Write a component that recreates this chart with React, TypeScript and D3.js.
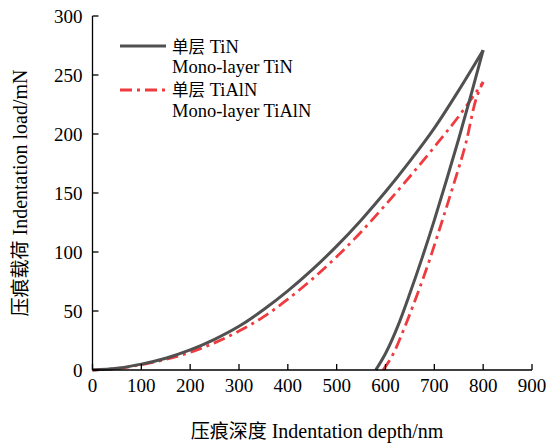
import React from "react";
import * as d3 from "d3";

const tinLoadDepth = [0, 50, 100, 150, 200, 250, 300, 350, 400, 450, 500, 550, 600, 650, 700, 750, 800];
const tinLoadForce = [0, 1.5, 5, 10, 17, 26, 37, 51, 67, 85, 105, 127, 151, 177, 205, 237, 271];
const tinUnloadDepth = [800, 775, 750, 725, 700, 675, 650, 625, 600, 580];
const tinUnloadForce = [271, 233, 196, 161, 127, 95, 65, 37, 14, 0];

const tialnLoadDepth = [0, 50, 100, 150, 200, 250, 300, 350, 400, 450, 500, 550, 600, 650, 700, 750, 800];
const tialnLoadForce = [0, 1.3, 4.5, 9, 15, 23, 33, 45, 60, 77, 96, 117, 140, 164, 189, 215, 244];
const tialnUnloadDepth = [800, 785, 765, 740, 715, 690, 665, 640, 615, 595];
const tialnUnloadForce = [244, 229, 193, 158, 125, 93, 64, 37, 13, 0];

const xTicks = [0, 100, 200, 300, 400, 500, 600, 700, 800, 900];
const yTicks = [0, 50, 100, 150, 200, 250, 300];

const legendLabels = [
  ["单层", "TiN", "Mono-layer TiN"],
  ["单层", "TiAlN", "Mono-layer TiAlN"],
];

const GRAY = "#505050";
const RED = "#ef3b3f";
const FONT = "'Liberation Serif', 'Times New Roman', serif";
const CJK = "'Noto Sans CJK SC', 'Noto Sans CJK JP', sans-serif";

export default function App() {
  const W = 547, H = 445;
  const x = d3.scaleLinear().domain([0, 900]).range([92.5, 532]);
  const y = d3.scaleLinear().domain([0, 300]).range([370, 16]);
  const line = d3
    .line<[number, number]>()
    .x((d) => x(d[0]))
    .y((d) => y(d[1]))
    .curve(d3.curveMonotoneX);
  const pts = (a: number[], b: number[]) => a.map((v, i) => [v, b[i]] as [number, number]);
  const tinL = line(pts(tinLoadDepth, tinLoadForce)) || "";
  const tinU = line(pts(tinUnloadDepth, tinUnloadForce).slice().reverse()) || "";
  const alL = line(pts(tialnLoadDepth, tialnLoadForce)) || "";
  const alU = line(pts(tialnUnloadDepth, tialnUnloadForce).slice().reverse()) || "";
  const dash = "12,5,3,5";
  const legendY = [
    [52.5, 73],
    [96, 117],
  ];

  return (
    <svg width={W} height={H} style={{ position: "absolute", left: 0, top: 0, background: "#fff" }}>
      {/* series */}
      <path d={alL} fill="none" stroke={RED} strokeWidth={2.8} strokeDasharray={dash} />
      <path d={alU} fill="none" stroke={RED} strokeWidth={2.8} strokeDasharray={dash} />
      <path d={tinL} fill="none" stroke={GRAY} strokeWidth={3} strokeLinejoin="round" />
      <path d={tinU} fill="none" stroke={GRAY} strokeWidth={3} strokeLinejoin="round" />

      {/* axes */}
      <line x1={x(0)} x2={x(0)} y1={y(300)} y2={y(0)} stroke="#000" strokeWidth={1.3} />
      <line x1={x(0)} x2={x(900)} y1={y(0)} y2={y(0)} stroke="#000" strokeWidth={1.3} />
      {xTicks.map((t) => (
        <g key={"x" + t}>
          <line x1={x(t)} x2={x(t)} y1={y(0)} y2={y(0) - 6} stroke="#000" strokeWidth={1.3} />
          <text x={x(t)} y={y(0) + 22} textAnchor="middle" fontFamily={FONT} fontSize={19}>
            {t}
          </text>
        </g>
      ))}
      {yTicks.map((t) => (
        <g key={"y" + t}>
          <line x1={x(0)} x2={x(0) + 6} y1={y(t)} y2={y(t)} stroke="#000" strokeWidth={1.3} />
          <text x={x(0) - 10} y={y(t) + 6.5} textAnchor="end" fontFamily={FONT} fontSize={19}>
            {t}
          </text>
        </g>
      ))}

      {/* axis titles */}
      <text x={317} y={438} textAnchor="middle" fontFamily={FONT} fontSize={20}>
        <tspan fontFamily={CJK} fontSize={19}>压痕深度</tspan> Indentation depth/nm
      </text>
      <text
        transform={`translate(27, 193) rotate(-90)`}
        textAnchor="middle"
        fontFamily={FONT}
        fontSize={20}
      >
        <tspan fontFamily={CJK} fontSize={19}>压痕载荷</tspan> Indentation load/mN
      </text>

      {/* legend */}
      <line x1={120} x2={166} y1={46} y2={46} stroke={GRAY} strokeWidth={3} />
      <line x1={120} x2={166} y1={90} y2={90} stroke={RED} strokeWidth={2.8} strokeDasharray={dash} />
      {legendLabels.map((lbl, i) => (
        <g key={"lg" + i}>
          <text x={172} y={legendY[i][0]} fontFamily={FONT} fontSize={18.5}>
            <tspan fontFamily={CJK} fontSize={16.5}>{lbl[0]}</tspan> {lbl[1]}
          </text>
          <text x={172} y={legendY[i][1]} fontFamily={FONT} fontSize={18.5}>
            {lbl[2]}
          </text>
        </g>
      ))}
    </svg>
  );
}
